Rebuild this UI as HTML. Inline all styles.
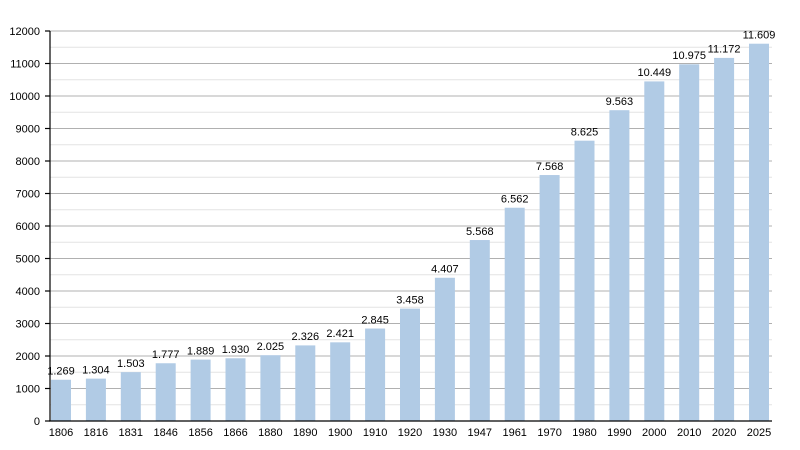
<!DOCTYPE html>
<html><head><meta charset="utf-8"><style>body{margin:0;background:#fff}svg{display:block;font-family:"Liberation Sans",sans-serif}</style></head><body>
<svg width="800" height="450" xmlns="http://www.w3.org/2000/svg">
<g stroke="#e4e4e4" stroke-width="1">
<line x1="50" x2="772" y1="404.75" y2="404.75"/><line x1="50" x2="772" y1="372.25" y2="372.25"/><line x1="50" x2="772" y1="339.75" y2="339.75"/><line x1="50" x2="772" y1="307.25" y2="307.25"/><line x1="50" x2="772" y1="274.75" y2="274.75"/><line x1="50" x2="772" y1="242.25" y2="242.25"/><line x1="50" x2="772" y1="209.75" y2="209.75"/><line x1="50" x2="772" y1="177.25" y2="177.25"/><line x1="50" x2="772" y1="144.75" y2="144.75"/><line x1="50" x2="772" y1="112.25" y2="112.25"/><line x1="50" x2="772" y1="79.75" y2="79.75"/><line x1="50" x2="772" y1="47.25" y2="47.25"/>
</g>
<g stroke="#b0b0b0" stroke-width="1">
<line x1="50" x2="772" y1="388.5" y2="388.5"/><line x1="50" x2="772" y1="356" y2="356"/><line x1="50" x2="772" y1="323.5" y2="323.5"/><line x1="50" x2="772" y1="291" y2="291"/><line x1="50" x2="772" y1="258.5" y2="258.5"/><line x1="50" x2="772" y1="226" y2="226"/><line x1="50" x2="772" y1="193.5" y2="193.5"/><line x1="50" x2="772" y1="161" y2="161"/><line x1="50" x2="772" y1="128.5" y2="128.5"/><line x1="50" x2="772" y1="96" y2="96"/><line x1="50" x2="772" y1="63.5" y2="63.5"/><line x1="50" x2="772" y1="31" y2="31"/>
</g>
<g fill="#b1cbe5">
<rect x="51" y="379.76" width="20" height="41.24"/><rect x="85.9" y="378.62" width="20" height="42.38"/><rect x="120.8" y="372.15" width="20" height="48.85"/><rect x="155.7" y="363.25" width="20" height="57.75"/><rect x="190.6" y="359.61" width="20" height="61.39"/><rect x="225.5" y="358.27" width="20" height="62.73"/><rect x="260.4" y="355.19" width="20" height="65.81"/><rect x="295.3" y="345.4" width="20" height="75.6"/><rect x="330.2" y="342.32" width="20" height="78.68"/><rect x="365.1" y="328.54" width="20" height="92.46"/><rect x="400" y="308.61" width="20" height="112.39"/><rect x="434.9" y="277.77" width="20" height="143.23"/><rect x="469.8" y="240.04" width="20" height="180.96"/><rect x="504.7" y="207.73" width="20" height="213.27"/><rect x="539.6" y="175.04" width="20" height="245.96"/><rect x="574.5" y="140.69" width="20" height="280.31"/><rect x="609.4" y="110.2" width="20" height="310.8"/><rect x="644.3" y="81.41" width="20" height="339.59"/><rect x="679.2" y="64.31" width="20" height="356.69"/><rect x="714.1" y="57.91" width="20" height="363.09"/><rect x="749" y="43.71" width="20" height="377.29"/>
</g>
<g stroke="#000" stroke-width="1.2">
<line x1="50" x2="50" y1="31" y2="421"/><line x1="49" x2="772" y1="421" y2="421"/>
<line x1="45" x2="50" y1="421" y2="421"/><line x1="45" x2="50" y1="388.5" y2="388.5"/><line x1="45" x2="50" y1="356" y2="356"/><line x1="45" x2="50" y1="323.5" y2="323.5"/><line x1="45" x2="50" y1="291" y2="291"/><line x1="45" x2="50" y1="258.5" y2="258.5"/><line x1="45" x2="50" y1="226" y2="226"/><line x1="45" x2="50" y1="193.5" y2="193.5"/><line x1="45" x2="50" y1="161" y2="161"/><line x1="45" x2="50" y1="128.5" y2="128.5"/><line x1="45" x2="50" y1="96" y2="96"/><line x1="45" x2="50" y1="63.5" y2="63.5"/><line x1="45" x2="50" y1="31" y2="31"/>
</g>
<g font-size="11" fill="#000" text-anchor="end">
<text x="40" y="425">0</text><text x="40" y="392.5">1000</text><text x="40" y="360">2000</text><text x="40" y="327.5">3000</text><text x="40" y="295">4000</text><text x="40" y="262.5">5000</text><text x="40" y="230">6000</text><text x="40" y="197.5">7000</text><text x="40" y="165">8000</text><text x="40" y="132.5">9000</text><text x="40" y="100">10000</text><text x="40" y="67.5">11000</text><text x="40" y="35">12000</text>
</g>
<g font-size="11" fill="#000" text-anchor="middle">
<text x="61" y="436">1806</text><text x="95.9" y="436">1816</text><text x="130.8" y="436">1831</text><text x="165.7" y="436">1846</text><text x="200.6" y="436">1856</text><text x="235.5" y="436">1866</text><text x="270.4" y="436">1880</text><text x="305.3" y="436">1890</text><text x="340.2" y="436">1900</text><text x="375.1" y="436">1910</text><text x="410" y="436">1920</text><text x="444.9" y="436">1930</text><text x="479.8" y="436">1947</text><text x="514.7" y="436">1961</text><text x="549.6" y="436">1970</text><text x="584.5" y="436">1980</text><text x="619.4" y="436">1990</text><text x="654.3" y="436">2000</text><text x="689.2" y="436">2010</text><text x="724.1" y="436">2020</text><text x="759" y="436">2025</text>
<text x="61" y="374.5">1.269</text><text x="95.9" y="373.4">1.304</text><text x="130.8" y="366.9">1.503</text><text x="165.7" y="358">1.777</text><text x="200.6" y="354.4">1.889</text><text x="235.5" y="353">1.930</text><text x="270.4" y="350">2.025</text><text x="305.3" y="340.2">2.326</text><text x="340.2" y="337.1">2.421</text><text x="375.1" y="323.3">2.845</text><text x="410" y="303.4">3.458</text><text x="444.9" y="272.5">4.407</text><text x="479.8" y="234.8">5.568</text><text x="514.7" y="202.5">6.562</text><text x="549.6" y="169.8">7.568</text><text x="584.5" y="135.5">8.625</text><text x="619.4" y="105">9.563</text><text x="654.3" y="76.2">10.449</text><text x="689.2" y="59.1">10.975</text><text x="724.1" y="52.7">11.172</text><text x="759" y="38.5">11.609</text>
</g>
</svg>
</body></html>
